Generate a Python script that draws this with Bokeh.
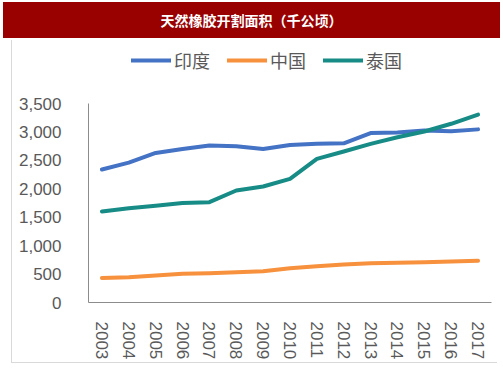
from bokeh.plotting import figure
from bokeh.models import Div, Legend, LegendItem, FactorRange, Range1d, FixedTicker, NumeralTickFormatter
from bokeh.layouts import column
from bokeh.embed import file_html
from bokeh.resources import INLINE

title_text = "天然橡胶开割面积（千公顷）"
years = ["2003", "2004", "2005", "2006", "2007", "2008", "2009", "2010",
         "2011", "2012", "2013", "2014", "2015", "2016", "2017"]
series_names = ["印度", "中国", "泰国"]
india = [2340, 2460, 2630, 2700, 2760, 2750, 2700, 2770, 2790, 2800, 2980, 2990, 3025, 3010, 3045]
china = [430, 445, 475, 505, 516, 533, 551, 604, 639, 668, 691, 698, 709, 721, 733]
thailand = [1600, 1658, 1700, 1750, 1765, 1970, 2040, 2175, 2527, 2656, 2790, 2907, 3008, 3143, 3306]
y_ticks = [0, 500, 1000, 1500, 2000, 2500, 3000, 3500]
y_max = 3500
colors = ["#4472C4", "#F7913D", "#178C86"]

# frame is 262 px tall; the axis (0..3500) occupies the lower 199 px
frame_h, axis_h = 262, 199

div = Div(text=title_text, width=497, height=36, margin=(2, 0, 0, 3),
          styles={"background-color": "#990000", "color": "white",
                  "font-size": "14px", "font-weight": "bold",
                  "text-align": "center", "line-height": "36px",
                  "font-family": "Noto Sans CJK SC", "width": "497px", "height": "36px"})

p = figure(width=486, height=323, x_range=FactorRange(*years, range_padding=0),
           y_range=Range1d(0, y_max * frame_h / axis_h), output_backend="svg", toolbar_location=None,
           min_border_left=76, min_border_right=7, min_border_top=0, min_border_bottom=61,
           margin=(2, 0, 0, 11))
p.styles = {"border-left": "1px solid #d9d9d9", "border-bottom": "1px solid #d9d9d9"}
p.outline_line_color = None
p.xgrid.grid_line_color = None
p.ygrid.grid_line_color = None

renderers = []
for vals, c in zip([india, china, thailand], colors):
    r = p.line(years, vals, line_color=c, line_width=4, line_join="round", line_cap="round")
    renderers.append(r)

items = [LegendItem(label=n, renderers=[r]) for n, r in zip(series_names, renderers)]
legend = Legend(items=items, orientation="horizontal", location=(43, 229), padding=0, margin=0,
                spacing=17, glyph_width=40, glyph_height=20, label_height=20, label_standoff=3,
                border_line_color=None, background_fill_alpha=0,
                label_text_font_size="18px", label_text_color="#595959",
                label_text_font="Noto Sans CJK SC")
p.add_layout(legend)

p.yaxis.ticker = FixedTicker(ticks=y_ticks)
p.yaxis.bounds = (0, y_max)
p.yaxis.formatter = NumeralTickFormatter(format="0,0")
p.yaxis.major_tick_line_color = None
p.yaxis.minor_tick_line_color = None
p.yaxis.major_label_standoff = 21
p.yaxis.axis_line_color = "#8c8c8c"
p.yaxis.major_label_text_font = "Liberation Sans"
p.yaxis.major_label_text_font_size = "17px"
p.yaxis.major_label_text_color = "#595959"

p.xaxis.major_label_orientation = "vertical"
p.xaxis.major_tick_line_color = None
p.xaxis.major_label_standoff = 13
p.xaxis.axis_line_color = "#8c8c8c"
p.xaxis.major_label_text_font = "Liberation Sans"
p.xaxis.major_label_text_font_size = "17px"
p.xaxis.major_label_text_color = "#595959"

layout = column(div, p, spacing=0)
open("out.html", "w").write(file_html(layout, INLINE))
